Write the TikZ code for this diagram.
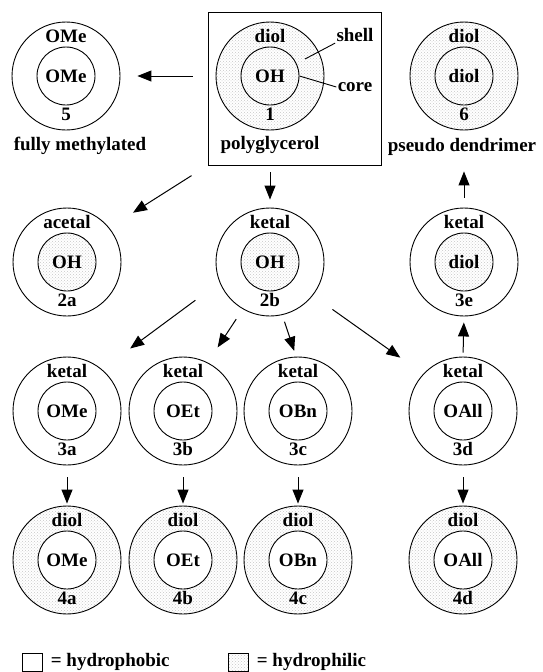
\documentclass[tikz,border=0pt]{standalone}
\usepackage{fontspec}
\setmainfont{Liberation Serif}
\usetikzlibrary{arrows.meta,patterns}

\newcommand{\polymer}[7]{%
  \node[shell,#3] (#1) at (#2) {};
  \node[core,#4] (#1in) at (#1) {#6};
  \node (#1top) at ([yshift=40pt]#1.center) {#5};
  \node (#1num) at ([yshift=-38pt]#1.center) {#7};
}

\begin{document}
\begin{tikzpicture}[x=1pt, y=-1pt,
  font=\fontsize{19}{22}\selectfont\bfseries, inner sep=1pt, line width=0.9pt,
  shell/.style={circle, draw, inner sep=0pt, minimum size=108pt},
  core/.style={circle, draw, inner sep=0pt, minimum size=58pt},
  phobic/.style={fill=white},
  philic/.style={preaction={fill=white}, pattern=crosshatch dots, pattern color=black!22},
  reaction/.style={-{Triangle[length=14pt, width=11pt]}, line width=1pt}]
 \useasboundingbox (0,0) rectangle (543,672);

 % starting polymer and the two end products
 \node[draw, minimum width=173pt, minimum height=153pt] (box) at (294.5,88.5) {};
 \polymer{c5}{66,76}{phobic}{phobic}{OMe}{OMe}{5}
 \polymer{c1}{270,76}{philic}{philic}{diol}{OH}{1}
 \polymer{c6}{464,76}{philic}{philic}{diol}{diol}{6}
 \node (fm) at (80,146) {fully methylated};
 \node (pg) at (270,145) {polyglycerol};
 \node (pd) at (462,147) {pseudo dendrimer};
 \node (shell) at (355,35) {shell};
 \node (core) at (355,87) {core};
 \coordinate (shellpt) at (305,59);
 \draw (shell.south west) -- (shellpt);
 \draw (core.west) -- (c1in.east);

 % protected shells
 \polymer{c2a}{67,262}{phobic}{philic}{acetal}{OH}{2a}
 \polymer{c2b}{270,262}{phobic}{philic}{ketal}{OH}{2b}
 \polymer{c3e}{464,262}{phobic}{philic}{ketal}{diol}{3e}
 \polymer{c3a}{67,411}{phobic}{phobic}{ketal}{OMe}{3a}
 \polymer{c3b}{183,411}{phobic}{phobic}{ketal}{OEt}{3b}
 \polymer{c3c}{298,411}{phobic}{phobic}{ketal}{OBn}{3c}
 \polymer{c3d}{463,411}{phobic}{phobic}{ketal}{OAll}{3d}

 % deprotected shells
 \polymer{c4a}{67,560}{philic}{phobic}{diol}{OMe}{4a}
 \polymer{c4b}{183,560}{philic}{phobic}{diol}{OEt}{4b}
 \polymer{c4c}{298,560}{philic}{phobic}{diol}{OBn}{4c}
 \polymer{c4d}{463,560}{philic}{phobic}{diol}{OAll}{4d}

 \path[reaction]
  (c1.west) edge[shorten <=23pt, shorten >=17pt] (c5.east)
  (c1.south) edge[shorten <=42pt, shorten >=8pt] (c2b.north)
  (box.south west) edge[shorten <=19pt, shorten >=28pt] (c2a.39)
  (c2b.202) edge[shorten <=30pt, shorten >=35pt] (c3a.50)
  (c2b.240) edge[shorten <=12pt, shorten >=18pt] (c3b.63)
  (c2b.283) edge[shorten <=7pt, shorten >=6pt] (c3c.92)
  (c2b.322) edge[shorten <=24pt, shorten >=28pt] (c3d.137)
  (c3d.north) edge[shorten <=4pt, shorten >=6pt] (c3e.south)
  (c3e.north) edge[shorten <=10pt, shorten >=41pt] (c6.south)
  (c3a.south) edge[shorten <=12pt, shorten >=2pt] (c4a.north)
  (c3b.south) edge[shorten <=12pt, shorten >=2pt] (c4b.north)
  (c3c.south) edge[shorten <=12pt, shorten >=2pt] (c4c.north)
  (c3d.south) edge[shorten <=12pt, shorten >=2pt] (c4d.north);

 % legend
 \node[draw, phobic, inner sep=0pt, minimum width=20pt, minimum height=18pt] (phob) at (32,662) {};
 \node[anchor=west] (phobtxt) at ([xshift=7pt]phob.east) {= hydrophobic};
 \node[draw, philic, inner sep=0pt, minimum width=20pt, minimum height=18pt] (phil) at (238,662) {};
 \node[anchor=west] (philtxt) at ([xshift=7pt]phil.east) {= hydrophilic};
\end{tikzpicture}
\end{document}
